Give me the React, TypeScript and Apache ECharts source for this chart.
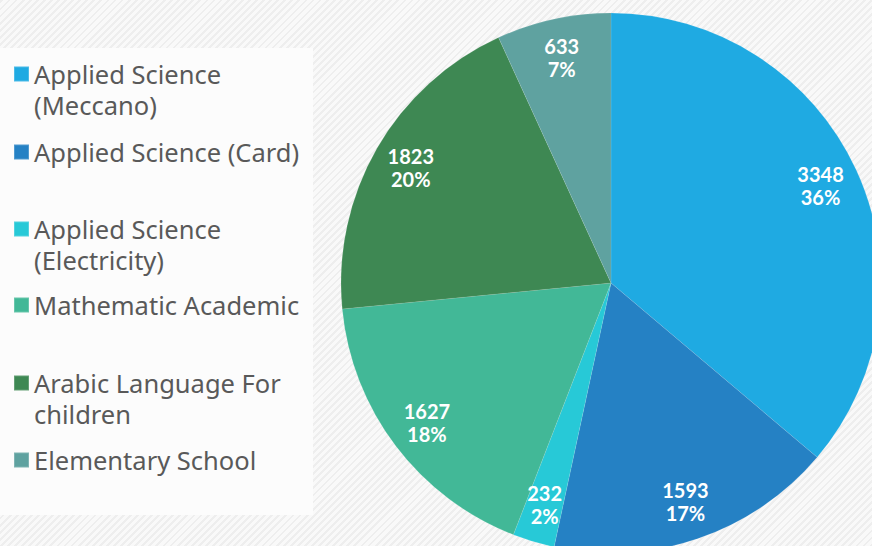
import React, { useEffect, useRef } from "react";
import * as echarts from "echarts";

const categories = [
  "Applied Science (Meccano)",
  "Applied Science (Card)",
  "Applied Science (Electricity)",
  "Mathematic Academic",
  "Arabic Language For children",
  "Elementary School",
];
const values = [3348, 1593, 232, 1627, 1823, 633];
const colors = ["#1FAAE2", "#2581C4", "#27C9D7", "#42B897", "#3E8853", "#5FA2A0"];
const legendLabels = [
  "Applied Science\n(Meccano)",
  "Applied Science (Card)",
  "Applied Science\n(Electricity)",
  "Mathematic Academic",
  "Arabic Language For\nchildren",
  "Elementary School",
];

export default function App() {
  const ref = useRef<HTMLDivElement>(null);
  useEffect(() => {
    const chart = echarts.init(ref.current!, null, { renderer: "svg" });
    const data = categories.map((name, i) => ({
      name,
      value: values[i],
      itemStyle: { color: colors[i] },
    }));
    const legendCenters = [74, 152, 229, 305, 383, 460];
    const lineH = 31;
    const legends = categories.map((name, i) => {
      const lines = legendLabels[i].split("\n").length;
      const text = lines > 1 ? "\n" + legendLabels[i] : legendLabels[i];
      const totalLines = lines > 1 ? lines + 1 : 1;
      const boxH = totalLines * lineH;
      return {
        show: true,
        orient: "vertical",
        left: 13,
        top: legendCenters[i] - boxH / 2,
        padding: 0,
        itemWidth: 15,
        itemHeight: 15,
        itemGap: 0,
        icon: "rect",
        selectedMode: false,
        data: [name],
        formatter: () => text,
        textStyle: {
          fontFamily: "Noto Sans",
          fontSize: 25.5,
          color: "#595959",
          lineHeight: lineH,
        },
      };
    });
    chart.setOption({
      animation: false,
      legend: legends,
      graphic: [
        {
          type: "rect",
          z: -10,
          shape: { x: 0, y: 48, width: 313, height: 467 },
          style: { fill: "#fcfcfc" },
          silent: true,
        },
      ],
      series: [
        {
          type: "pie",
          center: [611, 283],
          radius: 270,
          startAngle: 90,
          clockwise: true,
          silent: true,
          label: { show: false },
          labelLine: { show: false },
          emphasis: { disabled: true },
          itemStyle: { borderColor: "rgba(255,255,255,0.2)", borderWidth: 0.5 },
          data,
        },
        {
          type: "pie",
          center: [611, 283],
          radius: [186, 270],
          startAngle: 90,
          clockwise: true,
          silent: true,
          percentPrecision: 0,
          emphasis: { disabled: true },
          itemStyle: { color: "rgba(0,0,0,0)" },
          labelLine: { show: false },
          label: {
            show: true,
            position: "inside",
            formatter: "{c}\n{d}%",
            color: "#ffffff",
            fontFamily: "Lato",
            fontWeight: "bold",
            fontSize: 20,
            lineHeight: 23,
          },
          data: categories.map((name, i) => ({ name, value: values[i] })),
        },
      ],
    });
    return () => chart.dispose();
  }, []);
  return (
    <div
      style={{
        position: "fixed",
        left: 0,
        top: 0,
        width: 872,
        height: 546,
        background:
          "repeating-linear-gradient(-45deg, #eeeeee 0px, #eeeeee 2px, #f9f9f9 2px, #f9f9f9 5px)",
      }}
    >
      <div ref={ref} style={{ width: 872, height: 546 }} />
    </div>
  );
}
